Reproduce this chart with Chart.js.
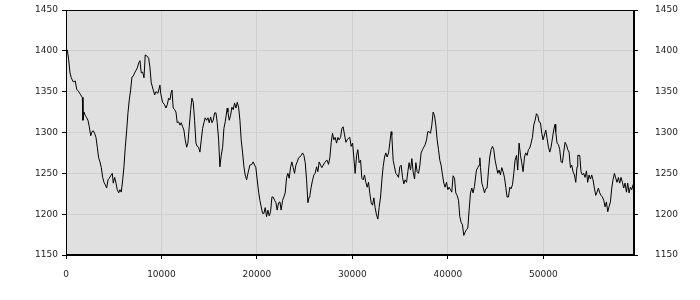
<!DOCTYPE html>
<html>
<head>
<meta charset="utf-8">
<script src="https://cdn.jsdelivr.net/npm/chart.js@4.4.1/dist/chart.umd.min.js"></script>
<style>
  html, body { margin:0; padding:0; background:#ffffff; }
  #wrap { width:700px; height:300px; }
</style>
</head>
<body>
<div id="wrap"><canvas id="trace" width="700" height="300"></canvas></div>
<script>
// valores (eixo x: passo, eixo y: nível)
const steps = [
  0,140,280,420,550,760,970,1120,1330,1540,
  1710,1780,1880,2020,2170,2300,2440,2590,2720,2860,
  3000,3140,3280,3420,3560,3700,3840,3980,4110,4260,
  4400,4530,4680,4850,4950,5100,5240,5370,5520,5650,
  5790,5940,6070,6210,6360,6490,6630,6770,6910,7050,
  7190,7330,7470,7610,7750,7880,8030,8170,8300,8450,
  8660,8790,8930,9140,9290,9420,9630,9840,9920,10120,
  10330,10470,10610,10750,10890,11030,11100,11230,11380,11520,
  11650,11800,11940,12070,12220,12350,12490,12640,12770,12910,
  13060,13190,13330,13470,13610,13750,13890,14030,14170,14310,
  14450,14580,14730,14870,15000,15150,15290,15420,15570,15710,
  15840,15990,16120,16260,16410,16540,16680,16890,16960,17100,
  17240,17380,17520,17660,17800,17940,18080,18220,18350,18500,
  18640,18770,18920,19060,19260,19470,19610,19760,19890,20030,
  20180,20310,20450,20590,20730,20870,21010,21150,21290,21430,
  21570,21700,21850,21990,22120,22270,22410,22540,22690,22820,
  22960,23110,23240,23380,23530,23660,23800,23940,24080,24220,
  24360,24500,24640,24780,24920,25060,25200,25340,25470,25550,
  25680,25830,25970,26100,26250,26380,26520,26670,26800,26940,
  27090,27220,27360,27500,27640,27780,27920,28060,28200,28340,
  28480,28610,28760,28900,29030,29180,29320,29450,29600,29730,
  29870,30020,30150,30290,30440,30570,30710,30860,30990,31130,
  31270,31410,31550,31690,31830,31970,32110,32250,32380,32530,
  32670,32800,32950,33090,33220,33370,33500,33640,33790,33920,
  34060,34130,34270,34410,34550,34690,34830,34970,35110,35250,
  35390,35520,35670,35810,35940,36090,36230,36360,36510,36650,
  36780,36930,37060,37200,37350,37480,37620,37770,37900,38040,
  38180,38320,38460,38600,38740,38880,39020,39160,39290,39440,
  39580,39710,39860,40000,40130,40280,40410,40550,40700,40830,
  40970,41120,41250,41390,41530,41670,41810,41950,42090,42230,
  42370,42510,42640,42790,42930,43000,43140,43270,43350,43420,
  43560,43690,43840,43970,44110,44260,44390,44530,44680,44810,
  44950,45090,45230,45370,45510,45650,45790,45930,46070,46200,
  46350,46490,46620,46770,46910,47040,47190,47320,47460,47610,
  47740,47880,48030,48160,48300,48440,48580,48720,48860,49000,
  49140,49280,49420,49550,49700,49840,49970,50120,50260,50390,
  50540,50680,50810,50960,51090,51230,51300,51440,51590,51720,
  51860,52000,52140,52280,52420,52560,52700,52840,52980,53110,
  53260,53400,53530,53610,53820,53950,54100,54230,54370,54520,
  54650,54790,54940,55070,55210,55350,55490,55630,55770,55910,
  56050,56190,56330,56470,56610,56750,56880,57030,57170,57300,
  57450,57590,57720,57870,58000,58140,58290,58420,58560,58710,
  58840,58980,59120,59260,59400,59470
];

const levels = [
  1401,1401,1389,1373,1367,1362,1363,1353,1350,1346,
  1343,1315,1325,1321,1318,1315,1307,1296,1301,1302,
  1299,1294,1282,1269,1264,1257,1245,1239,1236,1232,
  1242,1244,1247,1250,1238,1245,1238,1230,1226,1230,
  1227,1242,1258,1282,1303,1324,1340,1352,1368,1369,
  1373,1376,1379,1385,1388,1373,1374,1367,1395,1394,
  1391,1380,1361,1352,1346,1350,1348,1358,1348,1337,
  1334,1330,1334,1342,1340,1350,1352,1330,1328,1325,
  1312,1313,1309,1312,1307,1303,1291,1282,1287,1307,
  1328,1342,1337,1315,1287,1283,1282,1276,1291,1305,
  1312,1318,1315,1318,1312,1319,1312,1315,1324,1324,
  1312,1291,1258,1272,1282,1305,1313,1330,1325,1315,
  1321,1331,1328,1336,1330,1337,1331,1315,1291,1275,
  1258,1248,1242,1250,1260,1261,1264,1260,1257,1242,
  1227,1217,1209,1201,1201,1208,1197,1205,1198,1203,
  1221,1221,1217,1214,1205,1214,1215,1205,1217,1221,
  1226,1245,1250,1244,1258,1264,1257,1250,1260,1264,
  1269,1270,1272,1275,1272,1263,1242,1214,1221,1223,
  1233,1242,1248,1250,1258,1252,1264,1260,1257,1260,
  1263,1265,1266,1261,1269,1288,1299,1291,1294,1287,
  1294,1291,1294,1305,1307,1297,1288,1291,1293,1294,
  1283,1287,1270,1250,1272,1279,1263,1266,1244,1242,
  1248,1239,1233,1239,1225,1214,1211,1220,1208,1199,
  1194,1208,1221,1242,1258,1270,1275,1270,1275,1287,
  1301,1297,1266,1258,1250,1248,1245,1258,1260,1245,
  1237,1242,1239,1252,1263,1254,1268,1252,1243,1263,
  1252,1250,1259,1275,1279,1282,1285,1291,1301,1301,
  1299,1309,1325,1321,1309,1291,1279,1266,1260,1248,
  1238,1233,1239,1230,1233,1230,1227,1247,1244,1226,
  1223,1217,1197,1190,1187,1174,1178,1181,1183,1205,
  1226,1232,1226,1234,1248,1254,1257,1260,1269,1257,
  1238,1233,1226,1231,1232,1254,1270,1279,1283,1279,
  1266,1258,1250,1254,1248,1257,1252,1245,1233,1221,
  1221,1233,1231,1236,1250,1266,1272,1254,1287,1272,
  1263,1252,1270,1275,1272,1279,1281,1287,1294,1309,
  1315,1323,1321,1313,1312,1299,1291,1297,1303,1293,
  1282,1276,1282,1293,1303,1310,1301,1287,1285,1279,
  1264,1263,1276,1288,1285,1279,1276,1257,1260,1252,
  1248,1239,1258,1272,1272,1252,1248,1250,1245,1253,
  1239,1248,1243,1248,1242,1232,1223,1227,1232,1226,
  1223,1221,1217,1209,1215,1203,1209,1215,1232,1242,
  1250,1244,1239,1245,1238,1245,1239,1232,1238,1227,
  1238,1226,1233,1230,1236,1235
];

const xTicks = [0, 10000, 20000, 30000, 40000, 50000];
const yTicks = [1150, 1200, 1250, 1300, 1350, 1400, 1450];
const xMax = 59500;

const points = steps.map((x, i) => ({ x, y: levels[i] }));

// fundo cinza da área do gráfico + moldura preta
const plotFrame = {
  id: 'plotFrame',
  beforeDraw(chart){
    const { ctx, chartArea:a } = chart;
    ctx.save();
    ctx.fillStyle = '#e0e0e0';
    ctx.fillRect(a.left, a.top, a.right - a.left, a.bottom - a.top);
    ctx.restore();
  },
  afterDraw(chart){
    const { ctx, chartArea:a } = chart;
    ctx.save();
    ctx.strokeStyle = '#000';
    ctx.lineWidth = 1;
    ctx.strokeRect(a.left + 0.5, a.top + 0.5, a.right - a.left - 1, a.bottom - a.top - 1);
    ctx.restore();
  }
};

const tickFont = { family:'DejaVu Sans', size:9 };
const fixTicks = (list) => (s) => { s.ticks = list.map(v => ({ value:v })); };
const plain = (v) => String(v);
// largura fixa e sem padding extra vindo do ticks.padding
const fixWidth = (s) => { s.width = 66; s.paddingTop = 0; s.paddingBottom = 0; };

new Chart(document.getElementById('trace'), {
  type:'line',
  data:{
    datasets:[{
      data: points,
      borderColor:'#000',
      borderWidth:1,
      pointRadius:0,
      tension:0,
      fill:false,
      yAxisID:'y'
    }]
  },
  options:{
    responsive:false,
    animation:false,
    devicePixelRatio:1,
    layout:{ padding:{ top:10, right:0, bottom:0, left:0 } },
    plugins:{ legend:{ display:false }, tooltip:{ enabled:false } },
    scales:{
      x:{
        type:'linear',
        min:0,
        max:xMax,
        afterBuildTicks:fixTicks(xTicks),
        afterFit:(s)=>{ s.height = 45; },
        grid:{ color:'#cfcfcf', tickColor:'#000', tickLength:4 },
        border:{ color:'#000' },
        ticks:{ autoSkip:false, maxRotation:0, padding:10, color:'#222', font:tickFont, callback:plain }
      },
      y:{
        position:'left',
        min:yTicks[0],
        max:yTicks[yTicks.length - 1],
        afterBuildTicks:fixTicks(yTicks),
        afterFit:fixWidth,
        grid:{ color:'#cfcfcf', tickColor:'#000', tickLength:4 },
        border:{ color:'#000' },
        ticks:{ padding:4, color:'#222', font:tickFont, callback:plain }
      },
      y2:{
        position:'right',
        min:yTicks[0],
        max:yTicks[yTicks.length - 1],
        afterBuildTicks:fixTicks(yTicks),
        afterFit:fixWidth,
        grid:{ drawOnChartArea:false, tickColor:'#000', tickLength:4 },
        border:{ color:'#000' },
        ticks:{ padding:17, color:'#222', font:tickFont, callback:plain }
      }
    }
  },
  plugins:[plotFrame]
});
</script>
</body>
</html>
